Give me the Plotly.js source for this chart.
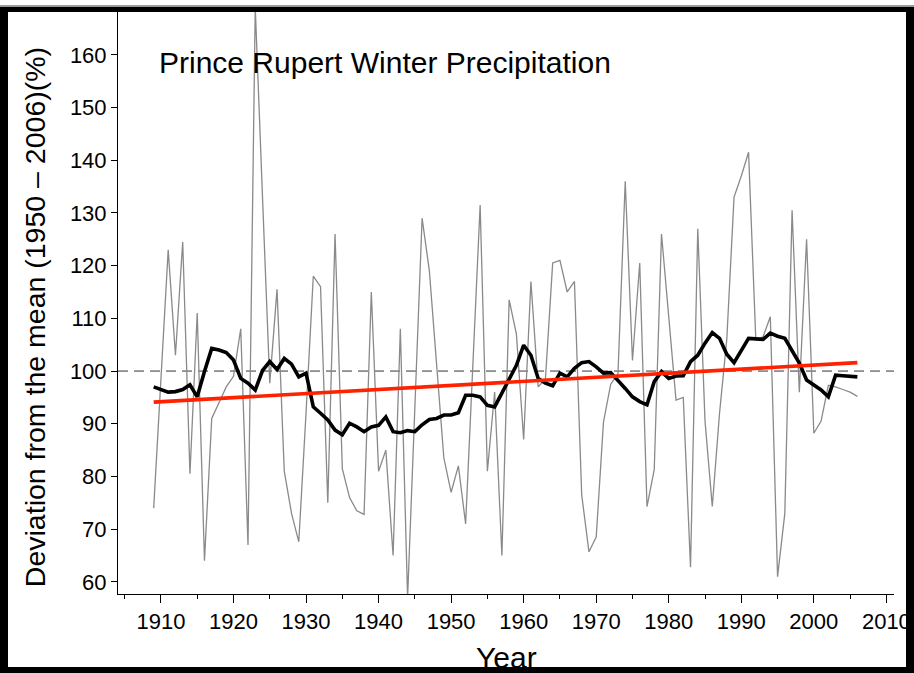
<!DOCTYPE html>
<html>
<head>
<meta charset="utf-8">
<script src="https://cdn.plot.ly/plotly-3.0.1.min.js"></script>
<style>
  html, body { margin: 0; padding: 0; background: #fff; }
  #wrap { position: relative; width: 914px; height: 673px; overflow: hidden; }
  #chart { position: absolute; left: 0; top: 0; width: 914px; height: 673px; }
  #frame { position: absolute; left: 0; top: 7px; width: 914px; height: 666px; box-sizing: border-box;
           border-left: 8px solid #000; border-top: 5px solid #000; border-right: 8px solid #000; border-bottom: 6px solid #000;
           pointer-events: none; z-index: 10; }
  #topline { position: absolute; left: 0; top: 5px; width: 914px; height: 2px; background: #9a9a9a; z-index: 10; }
</style>
</head>
<body>
<div id="wrap">
  <div id="chart"></div>
  <div id="topline"></div>
  <div id="frame"></div>
</div>
<script>
const years = [1909,1910,1911,1912,1913,1914,1915,1916,1917,1918,1919,1920,1921,1922,1923,1924,1925,1926,1927,1928,
  1929,1930,1931,1932,1933,1934,1935,1936,1937,1938,1939,1940,1941,1942,1943,1944,1945,1946,1947,1948,
  1949,1950,1951,1952,1953,1954,1955,1956,1957,1958,1959,1960,1961,1962,1963,1964,1965,1966,1967,1968,
  1969,1970,1971,1972,1973,1974,1975,1976,1977,1978,1979,1980,1981,1982,1983,1984,1985,1986,1987,1988,
  1989,1990,1991,1992,1993,1994,1995,1996,1997,1998,1999,2000,2001,2002,2003,2004,2005,2006];

const annualDeviation = [74,98,123,103,124.5,80.5,111,64,91,94,97,99,108,67,169,133,97.7,115.5,81,73,
  67.6,92,118,116,75,126,81.5,76,73.5,72.8,115,81,85,65,108,57,93,129,119,101,
  83.5,77,82,71,100,131.5,81,96,65,113.5,107,87,117,97,98.5,120.5,121,115,117,76.5,
  65.7,68.5,90.3,97.5,99.5,136,102,120.5,74.3,81.3,126,110,94.5,95,62.8,127,90.5,74.3,92,106,
  133,137,141.5,106,106.5,110.3,61,73,130.5,96,125,88.2,90.5,97.3,97,96.5,96,95.2];

const smoothedDeviation = [97.0,96.5,96.0,96.1,96.5,97.4,95.1,99.9,104.3,104.0,103.5,102.1,98.6,97.7,96.4,100.1,101.8,100.3,102.4,101.3,
  98.9,99.6,93.2,92.0,90.7,88.8,87.9,90.1,89.4,88.5,89.4,89.7,91.3,88.5,88.3,88.7,88.5,89.8,90.8,91.0,
  91.65,91.65,92.1,95.4,95.4,95.1,93.5,93.2,95.8,98.4,101.1,104.9,103,98.6,97.7,97.2,99.6,98.9,100.5,101.6,
  101.8,100.8,99.6,99.7,98.3,96.7,95.1,94.2,93.6,98.0,99.9,98.6,99.05,99.1,101.8,103.0,105.3,107.3,106.2,103.2,
  101.6,104,106.2,106.1,106.0,107.2,106.6,106.2,104.0,101.5,98.3,97.3,96.4,95.1,99.2,99.1,99.05,98.9];

const trendYears = [1909, 2006];
const trendValues = [94.1, 101.6];

const meanLevel = 100;
const yTicks = [60,70,80,90,100,110,120,130,140,150,160];
const xTicks = [1910,1920,1930,1940,1950,1960,1970,1980,1990,2000,2010];

const chartTitle = 'Prince Rupert Winter Precipitation';
const yTitle = 'Deviation from the mean (1950 \u2013 2006)(%)';
const xTitle = 'Year';

const FONT = 'Liberation Sans, Arial, Helvetica, sans-serif';
const TICKFONT = 'Liberation Sans Narrow, Arial Narrow, Liberation Sans, Arial, sans-serif';

const traces = [
  { x: years, y: annualDeviation, type: 'scatter', mode: 'lines',
    line: { color: '#8a8a8a', width: 1.3 }, hoverinfo: 'skip', showlegend: false },
  { x: years, y: smoothedDeviation, type: 'scatter', mode: 'lines',
    line: { color: '#000000', width: 3.6 }, hoverinfo: 'skip', showlegend: false },
  { x: trendYears, y: trendValues, type: 'scatter', mode: 'lines',
    line: { color: '#ff2200', width: 3.6 }, hoverinfo: 'skip', showlegend: false }
];

const layout = {
  width: 914, height: 673,
  margin: { l: 118, r: 20, t: 10, b: 79 },
  paper_bgcolor: '#ffffff', plot_bgcolor: '#ffffff',
  font: { family: FONT, color: '#000' },
  showlegend: false,
  xaxis: {
    range: [1904.08, 2011.05],
    tickmode: 'array', tickvals: xTicks, ticktext: xTicks.map(String),
    ticks: 'outside', ticklen: 8, tickwidth: 1, tickcolor: '#000',
    minor: { tickmode: 'linear', tick0: 1905, dtick: 10, ticks: 'outside', ticklen: 4, tickwidth: 1, tickcolor: '#000' },
    showline: true, linecolor: '#000', linewidth: 1,
    showgrid: false, zeroline: false,
    tickfont: { size: 22, family: TICKFONT, color: '#000' }
  },
  yaxis: {
    range: [57.7, 168.5],
    tickmode: 'array', tickvals: yTicks, ticktext: yTicks.map(String),
    ticks: 'outside', ticklen: 6, tickwidth: 1, tickcolor: '#000',
    showline: true, linecolor: '#000', linewidth: 1,
    showgrid: false, zeroline: false,
    tickfont: { size: 22, family: TICKFONT, color: '#000' }
  },
  shapes: [
    { type: 'line', xref: 'paper', x0: 0, x1: 1, yref: 'y', y0: meanLevel, y1: meanLevel,
      line: { color: '#333', width: 1, dash: '10px,6px' }, layer: 'below' }
  ],
  annotations: [
    { text: chartTitle, xref: 'paper', yref: 'paper', x: 0.0503, y: 0.910,
      xanchor: 'left', yanchor: 'middle', showarrow: false,
      font: { size: 30, family: FONT, color: '#000' } },
    { text: yTitle, xref: 'paper', yref: 'paper', x: -0.107, y: 0.474, textangle: -90,
      xanchor: 'center', yanchor: 'middle', showarrow: false,
      font: { size: 28.5, family: FONT, color: '#000' } },
    { text: xTitle, xref: 'paper', yref: 'paper', x: 0.5, y: -0.108,
      xanchor: 'center', yanchor: 'middle', showarrow: false,
      font: { size: 30, family: FONT, color: '#000' } }
  ]
};

Plotly.newPlot('chart', traces, layout, { staticPlot: true, displayModeBar: false });
</script>
</body>
</html>
